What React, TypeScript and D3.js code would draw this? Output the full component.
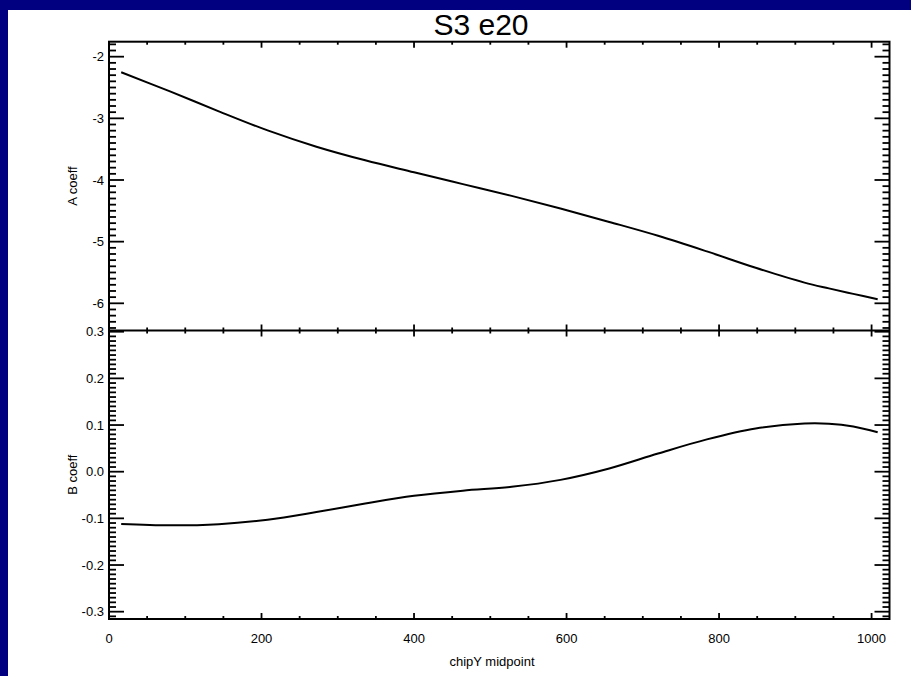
import React from "react";
import * as d3 from "d3";

// ---- data ----
const chipY = [16, 80, 144, 208, 272, 336, 400, 464, 528, 592, 656, 720, 784, 848, 912, 944, 976, 1008];
const aCoeff = [-2.253, -2.563, -2.886, -3.196, -3.46, -3.681, -3.875, -4.067, -4.258, -4.462, -4.68, -4.905, -5.158, -5.424, -5.664, -5.758, -5.847, -5.935];
const bCoeff = [-0.112, -0.115, -0.1125, -0.103, -0.0866, -0.0682, -0.0517, -0.0406, -0.0324, -0.0175, 0.0069, 0.0389, 0.0692, 0.0925, 0.1032, 0.1028, 0.0968, 0.0844];

const xTickValues = [0, 200, 400, 600, 800, 1000];
const xTickLabels = ["0", "200", "400", "600", "800", "1000"];
const aTickValues = [-6, -5, -4, -3, -2];
const aTickLabels = ["-6", "-5", "-4", "-3", "-2"];
const bTickValues = [-0.3, -0.2, -0.1, 0.0, 0.1, 0.2, 0.3];
const bTickLabels = ["-0.3", "-0.2", "-0.1", "0.0", "0.1", "0.2", "0.3"];

const titleText = "S3 e20";
const xTitle = "chipY midpoint";
const aTitle = "A coeff";
const bTitle = "B coeff";

// ---- layout ----
const W = 911;
const H = 676;
const L = 109;
const R = 889.5;
const T = 41.7;
const M = 330.5;
const B = 619;
const FONT = "'Liberation Sans', Arial, Helvetica, sans-serif";

export default function App() {
  const x = d3.scaleLinear().domain([0, 1023.5]).range([L, R]);
  const ya = d3.scaleLinear().domain([-6.441, -1.757]).range([M, T]);
  const yb = d3.scaleLinear().domain([-0.3157, 0.3026]).range([B, M]);

  const lineA = d3.line<number>().x((_, i) => x(chipY[i])).y((d) => ya(d)).curve(d3.curveCatmullRom.alpha(0.5));
  const lineB = d3.line<number>().x((_, i) => x(chipY[i])).y((d) => yb(d)).curve(d3.curveCatmullRom.alpha(0.5));

  const xMinor = d3.range(0, 1024, 50).filter((v) => v % 200 !== 0);
  const aMinor = d3.range(-64, -17).map((v) => v / 10).filter((v) => v >= -6.441 && v <= -1.757 && Math.abs(v - Math.round(v)) > 1e-6);
  const bMinor = d3.range(-31, 31).map((v) => v / 100).filter((v) => v >= -0.3157 && v <= 0.3026 && Math.abs(v * 10 - Math.round(v * 10)) > 1e-6);

  const stroke = "#000";
  const sw = 1.8;

  const xTicksAt = (yLine: number, dir: number, keyp: string) => (
    <g key={keyp}>
      {xTickValues.map((v) => (
        <line key={keyp + "M" + v} x1={x(v)} x2={x(v)} y1={yLine} y2={yLine + dir * 6} stroke={stroke} strokeWidth={sw} />
      ))}
      {xMinor.map((v) => (
        <line key={keyp + "m" + v} x1={x(v)} x2={x(v)} y1={yLine} y2={yLine + dir * 3} stroke={stroke} strokeWidth={sw} />
      ))}
    </g>
  );

  const yTicks = (scale: d3.ScaleLinear<number, number>, majors: number[], minors: number[], keyp: string) => (
    <g key={keyp}>
      {majors.map((v) => (
        <g key={keyp + "M" + v}>
          <line x1={L} x2={L + 15} y1={scale(v)} y2={scale(v)} stroke={stroke} strokeWidth={sw} />
          <line x1={R} x2={R - 15} y1={scale(v)} y2={scale(v)} stroke={stroke} strokeWidth={sw} />
        </g>
      ))}
      {minors.map((v) => (
        <g key={keyp + "m" + v}>
          <line x1={L} x2={L + 7} y1={scale(v)} y2={scale(v)} stroke={stroke} strokeWidth={sw} />
          <line x1={R} x2={R - 7} y1={scale(v)} y2={scale(v)} stroke={stroke} strokeWidth={sw} />
        </g>
      ))}
    </g>
  );

  return (
    <svg
      width={W}
      height={H}
      style={{ position: "fixed", left: 0, top: 0, display: "block" }}
      fontFamily={FONT}
    >
      <rect x={0} y={0} width={W} height={H} fill="#000080" />
      <rect x={8} y={10} width={W - 8} height={H - 10} fill="#ffffff" />

      <text x={481} y={35} fontSize={30} textAnchor="middle" fill="#000">
        {titleText}
      </text>

      {/* frames */}
      <rect x={L} y={T} width={R - L} height={B - T} fill="none" stroke={stroke} strokeWidth={2} />
      <line x1={L} x2={R} y1={M} y2={M} stroke={stroke} strokeWidth={2} />

      {/* x ticks */}
      {xTicksAt(T, 1, "top")}
      {xTicksAt(M, -1, "midup")}
      {xTicksAt(M, 1, "middown")}
      {xTicksAt(B, -1, "bot")}

      {/* y ticks */}
      {yTicks(ya, aTickValues, aMinor, "a")}
      {yTicks(yb, bTickValues, bMinor, "b")}

      {/* tick labels */}
      {xTickValues.map((v, i) => (
        <text key={"xl" + v} x={x(v)} y={643} fontSize={13} textAnchor="middle" fill="#000">
          {xTickLabels[i]}
        </text>
      ))}
      {aTickValues.map((v, i) => (
        <text key={"al" + v} x={104} y={ya(v)} dy="0.36em" fontSize={13} textAnchor="end" fill="#000">
          {aTickLabels[i]}
        </text>
      ))}
      {bTickValues.map((v, i) => (
        <text key={"bl" + v} x={104} y={yb(v)} dy="0.36em" fontSize={13} textAnchor="end" fill="#000">
          {bTickLabels[i]}
        </text>
      ))}

      {/* axis titles */}
      <text x={492} y={666} fontSize={13} textAnchor="middle" fill="#000">
        {xTitle}
      </text>
      <text transform={`translate(77,${(T + M) / 2}) rotate(-90)`} fontSize={13} textAnchor="middle" fill="#000">
        {aTitle}
      </text>
      <text transform={`translate(77,${(M + B) / 2}) rotate(-90)`} fontSize={13} textAnchor="middle" fill="#000">
        {bTitle}
      </text>

      {/* data */}
      <path d={lineA(aCoeff) || ""} fill="none" stroke="#000" strokeWidth={2} />
      <path d={lineB(bCoeff) || ""} fill="none" stroke="#000" strokeWidth={2} />
    </svg>
  );
}
